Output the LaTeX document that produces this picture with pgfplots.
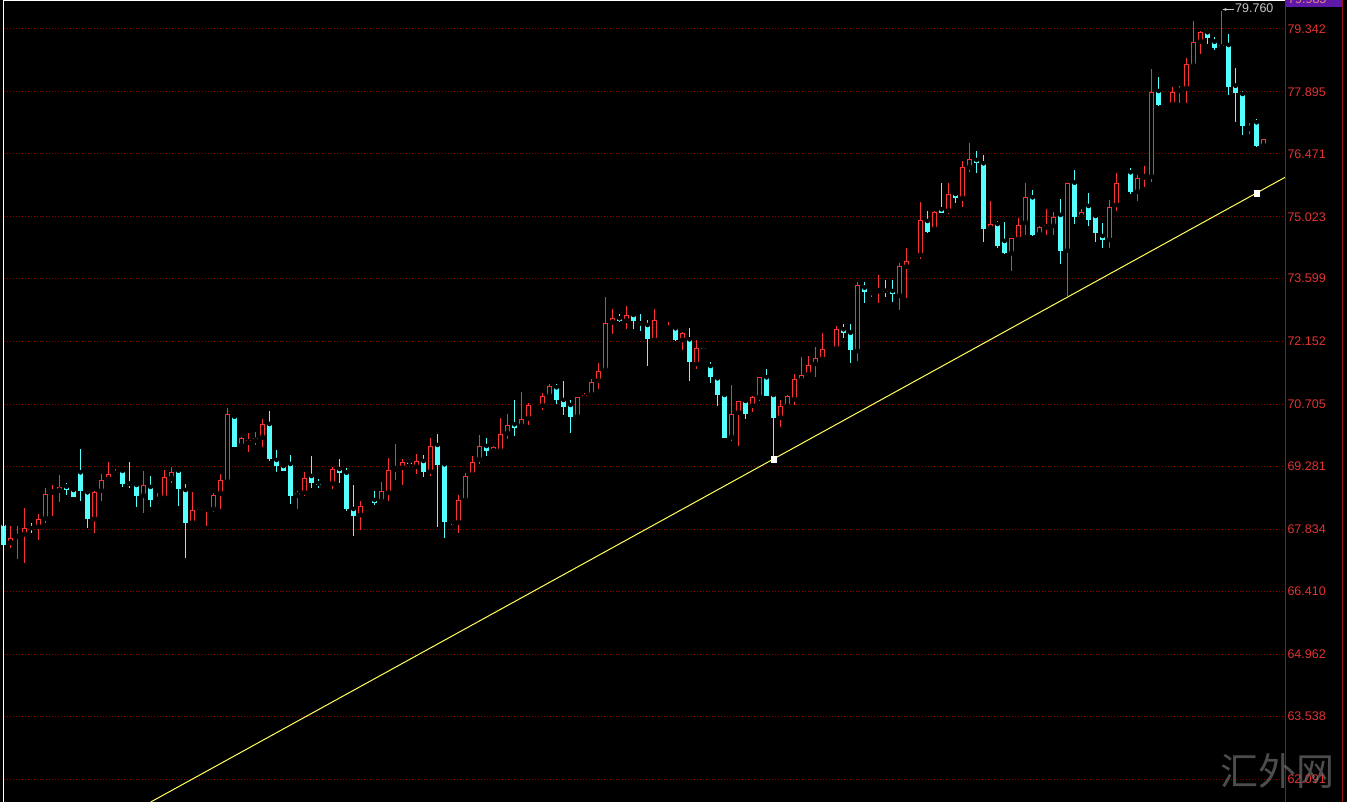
\documentclass[border=0pt]{standalone}
\usepackage{fontspec}
\setmainfont{Liberation Sans}
\newfontfamily\cjk{Noto Sans CJK SC}
\usepackage{pgfplots}
\usepackage{pgfplotstable}
\pgfplotsset{compat=1.18}
\usetikzlibrary{arrows.meta}
\definecolor{cup}{RGB}{250,50,50}
\definecolor{cdn}{RGB}{84,255,255}
\definecolor{gridred}{RGB}{140,0,0}
\definecolor{axred}{RGB}{150,20,20}
\definecolor{tlabel}{RGB}{225,50,50}
\definecolor{trend}{RGB}{255,255,90}
\definecolor{pbox}{RGB}{95,25,170}
\definecolor{annot}{RGB}{200,200,200}

\pgfplotstableread{
i o h l c
2 67.527 67.911 67.398 67.628
3 67.658 67.911 67.152 67.681
4 67.720 68.318 67.067 67.858
6 67.895 68.187 67.589 68.065
7 68.088 68.778 67.987 68.640
8 68.677 68.854 68.141 68.723
9 68.723 69.084 68.470 68.815
14 68.072 68.723 67.743 68.686
15 68.723 69.107 68.486 68.962
16 68.992 69.376 68.946 69.107
17 69.107 69.215 69.084 69.160
21 68.608 69.176 68.217 68.854
23 68.509 68.663 68.486 68.532
24 68.562 69.199 68.509 69.031
25 69.008 69.275 68.907 69.160
28 67.987 68.700 67.934 68.279
29 68.249 68.325 68.233 68.295
30 68.295 68.332 67.918 68.310
31 68.302 68.677 68.240 68.624
32 68.663 69.100 68.295 68.969
33 68.930 70.618 68.912 70.487
35 69.758 69.951 69.712 69.928
36 69.827 70.043 69.620 69.882
37 69.873 70.080 69.774 69.928
38 69.951 70.365 69.721 70.257
43 68.608 68.716 68.302 68.663
44 68.677 69.160 68.608 69.008
47 68.840 68.855 68.835 68.850
48 68.893 69.275 68.755 69.222
52 68.164 68.486 67.819 68.371
53 68.378 68.440 68.371 68.417
55 68.486 68.930 68.447 68.716
56 68.677 69.482 68.486 69.199
57 69.215 69.790 68.969 69.229
58 69.252 69.445 68.854 69.376
60 69.275 69.567 69.107 69.406
62 69.160 69.942 69.061 69.751
65 68.010 68.079 67.934 68.049
66 67.996 68.624 67.757 68.509
67 68.509 69.123 68.456 69.061
68 69.100 69.528 69.061 69.390
69 69.445 70.004 69.337 69.751
71 69.636 69.751 69.583 69.735
72 69.643 70.402 69.583 70.020
73 70.043 70.480 69.912 70.234
75 70.211 70.986 70.181 70.365
76 70.388 70.733 70.234 70.694
77 70.710 70.740 70.690 70.720
78 70.678 70.963 70.579 70.901
79 70.901 71.170 70.871 71.138
83 70.425 70.885 70.411 70.871
84 70.862 70.977 70.809 70.924
85 70.940 71.285 70.924 71.216
86 71.253 71.653 71.055 71.476
87 71.499 73.171 71.476 72.573
88 72.596 72.902 72.320 72.688
90 72.633 72.978 72.435 72.764
94 72.189 72.902 72.189 72.649
96 72.450 72.596 72.442 72.460
98 72.189 72.380 71.959 72.343
100 71.637 72.189 71.522 71.998
105 69.951 71.154 69.873 70.487
106 70.517 70.786 69.751 70.786
108 70.678 70.901 70.540 70.885
109 70.871 71.335 70.793 71.331
112 70.402 70.809 70.181 70.671
113 70.671 70.924 70.655 70.901
114 70.825 71.400 70.694 71.285
115 71.269 71.805 71.253 71.384
116 71.400 71.828 71.368 71.614
117 71.637 72.021 71.331 71.768
118 71.752 72.343 71.706 71.975
119 71.982 72.030 71.975 72.012
120 71.998 72.511 71.975 72.435
123 71.936 73.523 71.706 73.454
125 73.270 73.339 73.185 73.280
126 73.310 73.684 73.033 73.320
129 73.208 73.967 72.879 73.891
130 73.875 74.312 73.148 74.006
131 74.015 74.082 73.967 74.025
132 74.144 75.370 74.045 74.949
134 74.742 75.156 74.740 75.126
136 75.163 75.807 75.087 75.540
138 75.448 76.306 75.255 76.161
139 76.161 76.727 76.060 76.345
142 74.758 75.386 74.735 74.850
145 74.183 74.530 73.783 74.528
146 74.512 74.988 74.489 74.834
147 74.887 75.807 74.604 75.471
149 74.620 74.811 74.604 74.795
150 74.781 75.195 74.604 74.834
151 74.811 75.140 74.604 75.025
153 74.243 75.800 73.185 75.793
155 75.025 75.195 75.011 75.140
159 74.489 75.409 74.298 75.241
160 75.294 76.037 75.156 75.793
161 75.790 75.830 75.770 75.800
163 75.600 75.984 75.386 75.908
164 75.931 76.198 75.715 75.961
165 75.945 78.415 75.830 77.886
168 77.610 78.001 77.578 77.886
169 77.916 78.031 77.633 77.939
170 77.978 78.682 77.633 78.530
171 78.498 79.526 78.475 79.036
172 79.050 79.296 78.767 79.266
175 78.912 79.760 78.898 78.974
179 77.045 77.187 76.927 77.058
181 76.658 76.805 76.658 76.805
}\up

\pgfplotstableread{
i o h l c
1 67.957 68.049 67.405 67.474
5 67.865 67.980 67.757 67.851
10 68.815 68.907 68.624 68.739
11 68.739 68.785 68.567 68.585
12 69.146 69.675 68.486 68.723
13 68.686 68.700 67.872 68.072
18 69.176 69.176 68.801 68.877
19 68.885 69.376 68.778 68.870
20 68.854 68.907 68.355 68.608
22 68.808 69.061 68.355 68.509
26 69.183 69.215 68.378 68.762
27 68.739 68.877 67.168 67.987
34 70.425 70.448 69.721 69.735
39 70.257 70.556 69.413 69.452
40 69.429 69.659 69.146 69.298
41 69.291 69.314 69.176 69.183
42 69.337 69.544 68.410 68.608
45 69.061 69.521 68.792 68.907
46 68.893 68.985 68.778 68.847
49 69.222 69.445 68.907 69.123
50 69.137 69.238 68.256 68.302
51 68.302 68.854 67.688 68.141
54 68.509 68.716 68.394 68.447
59 69.390 69.452 69.344 69.344
61 69.406 69.544 69.045 69.160
63 69.774 70.027 67.895 69.314
64 69.330 69.367 67.628 68.010
70 69.751 69.928 69.528 69.636
74 70.250 70.809 69.988 70.158
80 71.101 71.170 70.710 70.809
81 70.809 71.246 70.464 70.641
82 70.694 70.809 70.043 70.411
89 72.688 72.780 72.610 72.626
91 72.764 72.803 72.435 72.633
92 72.573 72.787 72.403 72.560
93 72.534 72.649 71.598 72.212
95 72.640 72.645 72.573 72.628
97 72.458 72.511 72.173 72.189
99 72.205 72.458 71.253 71.676
101 72.015 72.020 71.982 72.005
102 71.591 71.690 71.193 71.331
103 71.308 71.331 70.678 70.924
104 70.924 70.977 69.935 69.942
107 70.786 70.790 70.365 70.487
110 71.331 71.522 70.895 70.901
111 70.924 70.963 69.445 70.402
121 72.435 72.550 72.228 72.343
122 72.357 72.550 71.667 71.959
124 73.392 73.530 73.033 73.300
127 73.320 73.569 73.185 73.310
128 73.316 73.569 73.070 73.247
133 74.926 75.156 74.657 74.680
135 75.195 75.793 75.115 75.117
137 75.547 75.550 75.347 75.462
140 76.329 76.536 76.037 76.267
141 76.253 76.444 74.436 74.742
143 74.857 74.926 74.298 74.351
144 74.466 74.910 74.167 74.197
148 75.471 75.639 74.581 74.604
152 75.064 75.425 73.937 74.243
154 75.807 76.099 74.857 75.025
156 75.271 75.563 74.811 74.949
157 75.041 75.045 74.450 74.643
158 74.581 74.887 74.298 74.489
162 76.046 76.138 75.547 75.600
166 77.916 78.231 77.571 77.594
167 77.635 77.650 77.610 77.620
173 79.266 79.270 78.990 79.142
174 79.050 79.151 78.859 78.912
176 78.974 79.220 77.824 78.001
177 78.038 78.438 77.210 77.863
178 77.847 77.916 76.904 77.118
180 77.196 77.272 76.635 76.658
}\dn

\begin{document}
\begin{tikzpicture}[x=1bp,y=1bp]
\useasboundingbox (0,0) rectangle (1347,802);
\fill[black] (0,0) rectangle (1347,802);
\begin{axis}[
  at={(3.5bp,0bp)}, anchor=south west,
  scale only axis, width=1282bp, height=802bp,
  xmin=1, xmax=184.14, ymin=61.563, ymax=80.009,
  clip=false,
  axis line style={draw=none},
  xtick=\empty,
  ytick={62.091,63.538,64.962,66.410,67.834,69.281,70.705,72.152,73.599,75.023,76.471,77.895,79.342},
  yticklabels={62.091,63.538,64.962,66.410,67.834,69.281,70.705,72.152,73.599,75.023,76.471,77.895,79.342},
  yticklabel pos=right,
  yticklabel style={font=\fontsize{12.5bp}{14bp}\selectfont, text=tlabel, anchor=west, inner sep=0pt, xshift=1.8bp},
  major tick length=0pt,
  ymajorgrids,
  major grid style={draw=gridred, line width=1bp, dash pattern=on 1bp off 2bp},
  error bars/error mark=none,
]
% trend line
\addplot[trend, line width=1bp] coordinates {(22.03,61.563) (184.14,75.937)};
% wicks
\addplot[only marks, mark=none, error bars/.cd, y dir=both, y explicit,
  error bar style={draw=cup, line width=1bp}]
  table[x=i, y=o, y error plus expr=\thisrow{h}-\thisrow{o}, y error minus expr=\thisrow{o}-\thisrow{l}] {\up};
\addplot[only marks, mark=none, error bars/.cd, y dir=both, y explicit,
  error bar style={draw=cdn, line width=1bp}]
  table[x=i, y=o, y error plus expr=\thisrow{h}-\thisrow{o}, y error minus expr=\thisrow{o}-\thisrow{l}] {\dn};
% cyan bodies
\addplot[only marks, mark=none, error bars/.cd, y dir=minus, y explicit,
  error bar style={draw=cdn, line width=5.4bp}]
  table[x=i, y=o, y error minus expr={max(\thisrow{o}-\thisrow{c},0.023)}] {\dn};
% red bodies (hollow)
\addplot[only marks, mark=none, error bars/.cd, y dir=plus, y explicit,
  error bar style={draw=cup, line width=5.6bp}]
  table[x=i, y=o, y error plus expr={max(\thisrow{c}-\thisrow{o},0.023)}] {\up};
\addplot[only marks, mark=none, error bars/.cd, y dir=plus, y explicit,
  error bar style={draw=black, line width=3.2bp}]
  table[x=i, y expr=\thisrow{o}+0.026, y error plus expr={max(\thisrow{c}-\thisrow{o}-0.052,0)}] {\up};
% trend line anchor points
\addplot[only marks, mark=square*, mark size=2.8bp, mark options={fill=white, draw=white}]
  coordinates {(111,69.452) (180,75.563)};
\end{axis}
% frame
\draw[white, line width=1.3] (3.5,0) -- (3.5,802);
\draw[white, line width=1.3] (3.5,801.35) -- (1285.5,801.35);
\draw[axred, line width=1] (1285.5,0) -- (1285.5,802);
\draw[axred, line width=1] (1342,0) -- (1342,802);
% current price box
\fill[pbox] (1286,794.5) rectangle (1341.5,802);
\node[anchor=base west, inner sep=0pt, text=tlabel!60!white, font=\fontsize{12.5bp}{14bp}\selectfont] at (1288,798) {79.985};
% high annotation
\draw[-{Stealth[length=4,width=3]}, annot, line width=0.8] (1234,792.5) -- (1222.5,792.5);
\node[anchor=west, inner sep=0pt, text=annot, font=\fontsize{12.5bp}{14bp}\selectfont] at (1235,793.5) {79.760};
% watermark
\node[text=gray, opacity=0.6, font=\cjk\fontsize{38bp}{40bp}\selectfont] at (1277,31) {汇外网};
\end{tikzpicture}
\end{document}
